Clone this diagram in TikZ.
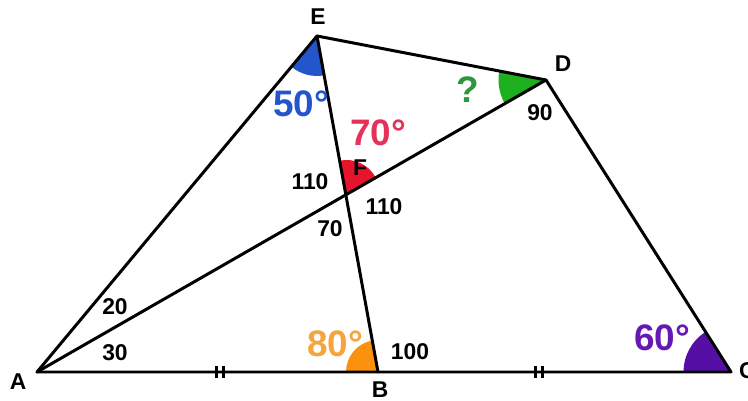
\documentclass[tikz,border=0pt]{standalone}
\usepackage{fontspec}
\setmainfont{Liberation Sans}
\usetikzlibrary{angles}

\definecolor{azul}{RGB}{35,85,205}
\definecolor{verde}{RGB}{30,175,30}
\definecolor{verdetxt}{RGB}{45,150,65}
\definecolor{rojo}{RGB}{230,20,45}
\definecolor{rosa}{RGB}{230,50,90}
\definecolor{naranja}{RGB}{250,145,15}
\definecolor{naranjatxt}{RGB}{245,165,60}
\definecolor{morado}{RGB}{85,15,165}
\definecolor{moradotxt}{RGB}{100,25,180}

\tikzset{
  etiqueta/.style={font=\bfseries\fontsize{13}{15}\selectfont, inner sep=1pt},
  grado/.style={font=\bfseries\fontsize{21}{24}\selectfont, inner sep=1pt},
  lado/.style={line width=1.7pt, line join=round, line cap=round},
}

\begin{document}
\begin{tikzpicture}[x=0.02cm, y=0.02cm]
  \useasboundingbox (0,0) rectangle (748,-401);

  % Puntos
  \coordinate (A) at (37,-372);
  \coordinate (B) at (378,-372);
  \coordinate (C) at (731,-372);
  \coordinate (D) at (546,-80);
  \coordinate (E) at (317,-36);
  \coordinate (F) at (346.5,-193);

  % Ángulos sombreados
  \pic[fill=azul, angle radius=0.8cm] {angle=A--E--B};
  \pic[fill=verde, angle radius=0.95cm] {angle=E--D--A};
  \pic[fill=rojo, angle radius=0.66cm] {angle=D--F--E};
  \pic[fill=naranja, angle radius=0.64cm] {angle=E--B--A};
  \pic[fill=morado, angle radius=0.95cm] {angle=D--C--B};

  % Lados
  \draw[lado] (A) -- (E) -- (D) -- (C) -- cycle;
  \draw[lado] (A) -- (D);
  \draw[lado] (E) -- (B);

  % Marcas de igualdad
  \coordinate (m1) at (220,-372);
  \coordinate (m2) at (539,-372);
  \foreach \m in {m1, m2} {
    \draw[line width=1.4pt] (\m) ++(-3.5,-6) -- ++(0,12);
    \draw[line width=1.4pt] (\m) ++(3.5,-6) -- ++(0,12);
  }

  % Vértices
  \node[etiqueta] (lE) at (318,-17) {E};
  \node[etiqueta] (lD) at (563,-64) {D};
  \node[etiqueta] (lA) at (18,-382) {A};
  \node[etiqueta] (lB) at (380,-390) {B};
  \node[etiqueta, anchor=west] (lC) at (737,-371) {C};
  \node[etiqueta] (lF) at (360,-168) {F};

  % Ángulos conocidos
  \node[etiqueta] (a90) at (540,-113) {90};
  \node[etiqueta] (a110i) at (310,-182) {110};
  \node[etiqueta] (a110d) at (384,-207) {110};
  \node[etiqueta] (a70) at (330,-229) {70};
  \node[etiqueta] (a20) at (115,-307) {20};
  \node[etiqueta] (a30) at (115,-353) {30};
  \node[etiqueta] (a100) at (410,-352) {100};

  % Ángulos en color
  \node[grado, text=azul] (g50) at (301,-104) {50°};
  \node[grado, text=verdetxt] (gq) at (468,-90) {?};
  \node[grado, text=rosa] (g70) at (378,-133) {70°};
  \node[grado, text=naranjatxt] (g80) at (335,-344) {80°};
  \node[grado, text=moradotxt] (g60) at (662,-338) {60°};

\end{tikzpicture}
\end{document}
